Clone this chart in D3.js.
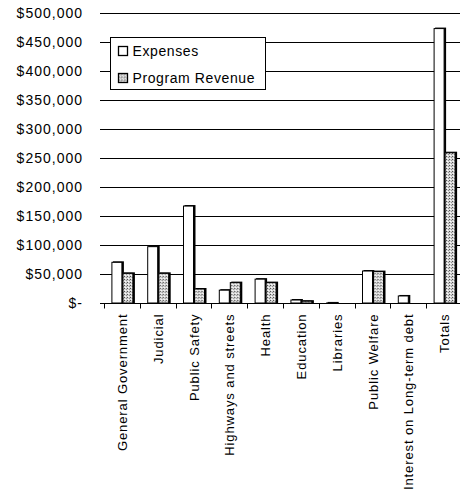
<!DOCTYPE html>
<html>
<head>
<meta charset="utf-8">
<script src="https://cdn.jsdelivr.net/npm/d3@7"></script>
<style>
  body { margin: 0; background: #fff; }
  text { font-family: "Liberation Sans", Arial, sans-serif; fill: #000; }
</style>
</head>
<body>
<div id="chart"></div>
<script>
// values (dollars)
const categories = ['General Government', 'Judicial', 'Public Safety', 'Highways and streets',
  'Health', 'Education', 'Libraries', 'Public Welfare', 'Interest on Long-term debt', 'Totals'];
const expenses = [71000, 98000, 168000, 23000, 42000, 6000, 1000, 56000, 13000, 474000];
const revenue = [52000, 52000, 25000, 36000, 36000, 4000, 0, 55000, 0, 260000];
const seriesNames = ['Expenses', 'Program Revenue'];
const yTicks = [0, 50000, 100000, 150000, 200000, 250000, 300000, 350000, 400000, 450000, 500000];

const W = 460, H = 495;
const m = {top: 13, left: 104, right: -2, bottom: 192};

const svg = d3.select('#chart').append('svg')
  .attr('width', W).attr('height', H);

// stipple fill for revenue bars
const pat = svg.append('defs').append('pattern')
  .attr('id', 'dots').attr('width', 3).attr('height', 3)
  .attr('patternUnits', 'userSpaceOnUse');
pat.append('rect').attr('width', 3).attr('height', 3).attr('fill', '#d8d8d8');
pat.append('rect').attr('x', 0).attr('y', 0).attr('width', 1).attr('height', 1).attr('fill', '#444');
pat.append('rect').attr('x', 2).attr('y', 1).attr('width', 1).attr('height', 1).attr('fill', '#888');
pat.append('rect').attr('x', 1).attr('y', 2).attr('width', 1).attr('height', 1).attr('fill', '#fff');

const x = d3.scaleBand().domain(categories)
  .range([m.left, W - m.right]).paddingInner(0).paddingOuter(0);
const x1 = d3.scaleBand().domain(seriesNames).range([0, 22]);
const y = d3.scaleLinear().domain([0, 500000]).range([H - m.bottom, m.top]);

// gridlines
svg.append('g').selectAll('line').data(yTicks.slice(1)).join('line')
  .attr('x1', m.left - 4).attr('x2', W)
  .attr('y1', d => Math.round(y(d)) + 0.5).attr('y2', d => Math.round(y(d)) + 0.5)
  .attr('stroke', '#000').attr('stroke-width', 1);

// y labels
const fmt = d => d === 0 ? '$-' : '$' + d3.format(',')(d);
svg.append('g').selectAll('text').data(yTicks).join('text')
  .attr('x', 83).attr('y', d => y(d) + 5)
  .attr('text-anchor', 'end')
  .style('font-size', '14px').style('letter-spacing', '1px')
  .text(fmt);

// bars
const groups = svg.append('g').selectAll('g').data(categories).join('g')
  .attr('transform', d => `translate(${x(d) + (x.bandwidth() - 22) / 2 + 1},0)`);

function drawSeries(vals, name, fill) {
  groups.each(function(d, i) {
    const g = d3.select(this);
    const v = vals[i];
    if (v <= 0) return;
    const bx = x1(name), by = y(v), bh = y(0) - y(v), bw = x1.bandwidth();
    // dark shadow on right/top
    g.append('rect').attr('x', bx + 1).attr('y', by - 0.5).attr('width', bw).attr('height', bh + 0.5)
      .attr('fill', '#000');
    g.append('rect').attr('x', bx).attr('y', by + 0.5).attr('width', bw - 1).attr('height', Math.max(bh - 0.5, 0))
      .attr('fill', fill).attr('stroke', '#000').attr('stroke-width', 1);
  });
}
drawSeries(expenses, 'Expenses', '#fff');
drawSeries(revenue, 'Program Revenue', 'url(#dots)');

// category axis
const xAxis = svg.append('g').attr('transform', `translate(0,${Math.round(y(0)) + 0.5})`);
xAxis.append('line').attr('x1', m.left - 4).attr('x2', W).attr('stroke', '#000');
xAxis.selectAll('line.tk').data(categories).join('line').attr('class', 'tk')
  .attr('x1', d => Math.round(x(d)) + 0.5).attr('x2', d => Math.round(x(d)) + 0.5)
  .attr('y1', 0).attr('y2', 5).attr('stroke', '#000');
xAxis.selectAll('text').data(categories).join('text')
  .attr('transform', d => `translate(${x(d) + x.bandwidth() / 2 + 5},10) rotate(-90)`)
  .attr('text-anchor', 'end')
  .style('font-size', '13px').style('letter-spacing', '0.9px')
  .text(d => d);

// legend
const lg = svg.append('g').attr('transform', 'translate(110.5,37.5)');
lg.append('rect').attr('width', 155).attr('height', 52)
  .attr('fill', '#fff').attr('stroke', '#000');
const items = lg.selectAll('g').data(seriesNames).join('g')
  .attr('transform', (d, i) => `translate(8,${9 + i * 27})`);
items.append('rect').attr('width', 9).attr('height', 9)
  .attr('fill', (d, i) => i ? 'url(#dots)' : '#fff').attr('stroke', '#000').attr('stroke-width', 1.3);
items.append('text').attr('x', 14).attr('y', 9.5)
  .style('font-size', '14px').style('letter-spacing', '0.6px')
  .text(d => d);
</script>
</body>
</html>
